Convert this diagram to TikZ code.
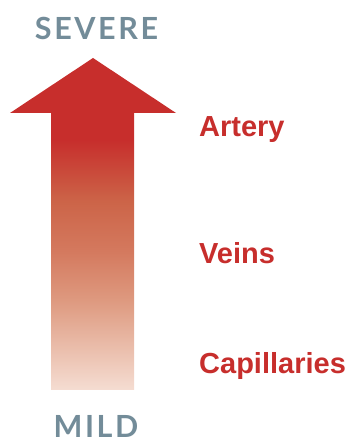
\documentclass[tikz,border=0pt]{standalone}
\usepackage{fontspec}
\setmainfont{Liberation Sans}
\newfontfamily\levelfont[LetterSpace=8.5]{Lato}
\usepackage{tikz}

\definecolor{arrowred}{HTML}{C72E2C}
\definecolor{fadeA}{HTML}{CC6448}
\definecolor{fadeB}{HTML}{D4795E}
\definecolor{fadeC}{HTML}{DE9A80}
\definecolor{fadeD}{HTML}{F5DDD2}
\definecolor{levelgray}{HTML}{738C99}

\pgfdeclareverticalshading{shaftfade}{100bp}{color(0bp)=(fadeD); color(25bp)=(fadeD);
  color(41bp)=(fadeC); color(50bp)=(fadeB); color(59bp)=(fadeA);
  color(70bp)=(arrowred); color(100bp)=(arrowred)}

\begin{document}
\begin{tikzpicture}[x=1pt,y=1pt,
  level/.style={font=\levelfont\bfseries\fontsize{30.5}{30.5}\selectfont,text=levelgray,inner sep=0pt,anchor=base},
  vessel/.style={font=\bfseries\fontsize{29}{29}\selectfont,text=arrowred,inner sep=0pt,anchor=base west}]
  \useasboundingbox (0,0) rectangle (349,438);
  \coordinate (tip) at (93,380);
  \coordinate (HL) at (10,325);
  \coordinate (HR) at (176,325);
  \coordinate (SL) at (51,48);
  \coordinate (ST) at (134,326);
  \shade[shading=shaftfade] (SL) rectangle (ST);
  \fill[arrowred] (HL)--(tip)--(HR)--cycle;
  \node[level] (severe) at (96.5,398) {SEVERE};
  \node[level] (mild) at (96,1) {MILD};
  \node[vessel] (artery) at (199,301) {Artery};
  \node[vessel] (veins) at (199,174) {Veins};
  \node[vessel] (capillaries) at (199,64) {Capillaries};
\end{tikzpicture}
\end{document}
